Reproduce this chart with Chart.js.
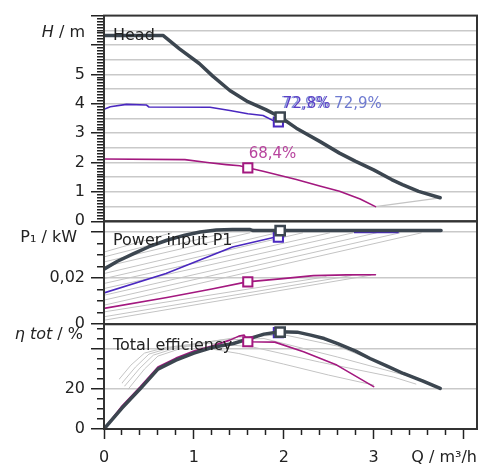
<!DOCTYPE html>
<html><head><meta charset="utf-8">
<script src="https://cdn.jsdelivr.net/npm/chart.js@4/dist/chart.umd.min.js"></script>
<style>html,body{margin:0;padding:0;background:#fff;}canvas{display:block;}</style>
</head><body>
<canvas id="c" width="482" height="468"></canvas>
<script>
// ---------- Head H / m ----------
const headQ = [0, 0.66, 0.84, 1.06, 1.21, 1.4, 1.6, 1.8, 1.96, 2.14, 2.4, 2.62, 2.8, 3.0, 3.2, 3.32, 3.5, 3.74];
const headH = [6.32, 6.32, 5.87, 5.37, 4.94, 4.45, 4.07, 3.8, 3.55, 3.17, 2.72, 2.32, 2.04, 1.75, 1.42, 1.25, 1.02, 0.8];
const blueHQ = [0, 0.07, 0.25, 0.47, 0.5, 1.18, 1.4, 1.6, 1.77, 1.9, 1.94];
const blueH  = [3.81, 3.9, 3.98, 3.96, 3.89, 3.88, 3.77, 3.66, 3.6, 3.4, 3.38];
const magHQ = [0, 0.9, 1.15, 1.36, 1.51, 1.6, 1.77, 2.14, 2.4, 2.62, 2.85, 3.02];
const magH  = [2.12, 2.1, 2.0, 1.93, 1.89, 1.82, 1.7, 1.42, 1.2, 1.02, 0.76, 0.5];
const minHQ = [3.02, 3.74];
const minH  = [0.5, 0.8];

// ---------- Power input P1 / kW ----------
const headPQ = [0, 0.15, 0.33, 0.5, 0.7, 0.9, 1.07, 1.25, 1.43, 1.62, 1.66, 3.75];
const headP  = [0.0238, 0.0272, 0.0305, 0.0335, 0.0363, 0.0385, 0.0399, 0.0407, 0.041, 0.041, 0.0405, 0.0405];
const bluePQ = [0, 0.69, 1.06, 1.43, 1.91, 2.0];
const blueP  = [0.0135, 0.0219, 0.0276, 0.0334, 0.0377, 0.0378];
const blueTopQ = [2.79, 3.27];
const blueTopP = [0.0397, 0.0397];
const magPQ = [0, 0.7, 1.2, 1.59, 1.96, 2.33, 2.7, 3.02];
const magP  = [0.0068, 0.0115, 0.0152, 0.0183, 0.0196, 0.021, 0.0213, 0.0214];
const fanStartP = [0.0312, 0.0291, 0.0269, 0.0248, 0.0219, 0.0197, 0.0176, 0.0154, 0.0125, 0.0104, 0.0082, 0.0053, 0.0032, 0.0017];
const fanEndQ   = [0.75, 1.05, 1.35, 1.62, 1.92, 2.21, 2.51, 2.77, 3.03, 3.29, 3.53, 2.47, 2.75, 2.97];
const fanEndP   = [0.0395, 0.0395, 0.0395, 0.0395, 0.0395, 0.0395, 0.0395, 0.0395, 0.0395, 0.0395, 0.0395, 0.0205, 0.021, 0.0212];

// ---------- Total efficiency / % ----------
const headEQ = [0, 0.2, 0.4, 0.6, 0.8, 1.0, 1.2, 1.44, 1.6, 1.78, 1.96, 2.15, 2.3, 2.45, 2.6, 2.8, 2.96, 3.15, 3.33, 3.55, 3.74];
const headE  = [0, 10.5, 20, 30, 34.5, 38, 40.8, 42.8, 45, 47.5, 48.7, 48.5, 47, 45.3, 42.8, 39, 35.3, 31.5, 27.8, 24, 20.3];
const blueEQ = [0, 0.2, 0.4, 0.6, 0.8, 1.0, 1.2, 1.44, 1.6, 1.78, 1.94];
const blueE  = [0, 10.8, 20.3, 30.3, 34.8, 38.3, 41, 43, 45.2, 47.6, 48.5];
const magEQ = [0, 0.2, 0.4, 0.6, 0.8, 1.0, 1.2, 1.4, 1.5, 1.56, 1.6, 1.9, 2.22, 2.59, 3.0];
const magE  = [0, 11.5, 21, 31, 35.5, 39, 41.5, 44.5, 46.5, 47, 43.7, 43.5, 38.7, 32, 21.2];
const effG1Q = [0.17, 0.3, 0.45, 0.7, 1.0, 1.5, 2.0, 2.5, 3.0];
const effG1  = [25, 32, 38, 41, 41.5, 37.8, 32.5, 27, 22];
const effG2Q = [0.2, 0.35, 0.5, 0.8, 1.2, 1.66, 2.4, 3.22, 3.47];
const effG2  = [23, 31, 37.5, 41.5, 43, 41, 33.5, 26, 22.5];
const effG3Q = [0.23, 0.4, 0.55, 0.9, 1.3, 1.78, 2.6, 3.55];
const effG3  = [21.5, 30.5, 37, 42, 44.5, 45.3, 36, 24.5];
const effG4Q = [0.27, 0.45, 0.6, 1.0, 1.5, 2.0, 2.6, 3.65];
const effG4  = [20, 30, 36.5, 42.5, 46, 47.2, 41.5, 22.5];

// ---------- operating points: head, blue, magenta ----------
const opQ = [1.96, 1.94, 1.6];
const opH = [3.55, 3.38, 1.82];
const opP = [0.0405, 0.0376, 0.0183];
const opE = [48.5, 48.3, 43.7];

// ---------- texts ----------
const xTickLabels = ['0', '1', '2', '3'];
const curveNames = [
  {text: 'Head', axis: 'yH', q: 0.1, v: 6.32},
  {text: 'Power input P1', axis: 'yP', q: 0.1, v: 0.0359},
  {text: 'Total efficiency', axis: 'yE', q: 0.1, v: 41.5}
];
const pctLabels = [
  {text: '72,9%', axis: 'yH', q: 1.97, v: 3.98, color: '#7c8ad6'},
  {text: '72,8%', axis: 'yH', q: 1.99, v: 3.98, color: '#5a3ec6'},
  {text: '72,9%', axis: 'yH', q: 2.56, v: 3.98, color: '#6e7ad0'},
  {text: '68,4%', axis: 'yH', q: 1.61, v: 2.28, color: '#b8449e'}
];

const HEAD = '#3c4650', BLUE = '#4a28c0', MAG = '#a3187f', GRAY = '#c4c4c4', GRID = '#c9c9c9', INK = '#222';
const FONT = '"DejaVu Sans", sans-serif';

function pts(xs, ys) { return xs.map((x, i) => ({x: x, y: ys[i]})); }
function line(data, axis, color, width, order) {
  return {data: data, yAxisID: axis, borderColor: color, borderWidth: width, pointRadius: 0,
    fill: false, tension: 0, order: order, borderJoinStyle: 'round', borderCapStyle: 'round'};
}
function marker(x, y, axis, color, bw, order) {
  return {data: [{x: x, y: y}], yAxisID: axis, showLine: false, pointStyle: 'rect', pointRadius: 6.5,
    pointBackgroundColor: '#fff', pointBorderColor: color, pointBorderWidth: bw, order: order};
}
const near = (a, b) => Math.abs(a - b) < 1e-9;
const multOf = (v, s) => Math.abs(v / s - Math.round(v / s)) < 1e-6;

const datasets = [];
datasets.push(marker(opQ[0], opH[0], 'yH', HEAD, 2.5, 0));
datasets.push(marker(opQ[0], opP[0], 'yP', HEAD, 2.5, 0));
datasets.push(marker(opQ[0], opE[0], 'yE', HEAD, 2.5, 0));
datasets.push(marker(opQ[2], opH[2], 'yH', MAG, 2, 0.5));
datasets.push(marker(opQ[2], opP[2], 'yP', MAG, 2, 0.5));
datasets.push(marker(opQ[2], opE[2], 'yE', MAG, 2, 0.5));
datasets.push(marker(opQ[1], opH[1], 'yH', BLUE, 2, 1.5));
datasets.push(marker(opQ[1], opP[1], 'yP', BLUE, 2, 1.5));
datasets.push(marker(opQ[1], opE[1], 'yE', BLUE, 2, 1.5));
datasets.push(line(pts(headQ, headH), 'yH', HEAD, 3.5, 1));
datasets.push(line(pts(headPQ, headP), 'yP', HEAD, 3.5, 1));
datasets.push(line(pts(headEQ, headE), 'yE', HEAD, 3.5, 1));
datasets.push(line(pts(blueHQ, blueH), 'yH', BLUE, 1.6, 2));
datasets.push(line(pts(bluePQ, blueP), 'yP', BLUE, 1.6, 2));
datasets.push(line(pts(blueTopQ, blueTopP), 'yP', BLUE, 1.8, 2));
datasets.push(line(pts(blueEQ, blueE), 'yE', BLUE, 1.4, 2));
datasets.push(line(pts(magHQ, magH), 'yH', MAG, 1.6, 2.5));
datasets.push(line(pts(magPQ, magP), 'yP', MAG, 1.6, 2.5));
datasets.push(line(pts(magEQ, magE), 'yE', MAG, 1.6, 2.5));
datasets.push(line(pts(minHQ, minH), 'yH', GRAY, 1.2, 3));
fanStartP.forEach((p0, i) => datasets.push(line([{x: 0, y: p0}, {x: fanEndQ[i], y: fanEndP[i]}], 'yP', GRAY, 1, 3)));
datasets.push(line(pts(effG1Q, effG1), 'yE', GRAY, 1, 3));
datasets.push(line(pts(effG2Q, effG2), 'yE', GRAY, 1, 3));
datasets.push(line(pts(effG3Q, effG3), 'yE', GRAY, 1, 3));
datasets.push(line(pts(effG4Q, effG4), 'yE', GRAY, 1, 3));

function yScale(cfg) {
  return {
    type: 'linear', position: 'left', stack: 'panels', stackWeight: cfg.sw, weight: cfg.w,
    min: 0, max: cfg.max,
    border: {display: true, color: INK, width: 2},
    grid: {
      color: c => (cfg.grid(c.tick.value) ? GRID : 'rgba(0,0,0,0)'),
      lineWidth: 1.5, tickLength: 13, tickColor: INK, tickWidth: 1.5,
      tickBorderDash: c => (cfg.major(c.tick.value) ? [] : [0, 6, 7, 100])
    },
    ticks: {stepSize: cfg.step, autoSkip: false, includeBounds: false, padding: 6, color: INK,
      font: {family: FONT, size: 16}, callback: cfg.label},
    afterFit: s => { s.width = 104; }
  };
}

function drawParts(ctx, parts, xRight, y) {
  let total = 0;
  parts.forEach(p => { ctx.font = (p.i ? 'italic ' : '') + '16px ' + FONT; p.w = ctx.measureText(p.t).width; total += p.w; });
  let x = xRight - total;
  parts.forEach(p => { ctx.font = (p.i ? 'italic ' : '') + '16px ' + FONT; ctx.fillText(p.t, x, y); x += p.w; });
}

const textPlugin = {
  id: 'pumpText',
  afterDatasetsDraw(chart) {
    const ctx = chart.ctx, a = chart.chartArea, sx = chart.scales.x;
    ctx.save();
    ctx.strokeStyle = '#333'; ctx.lineWidth = 2;
    ['yH', 'yP', 'yE'].forEach(id => {
      const s = chart.scales[id];
      ctx.strokeRect(a.left, s.top, a.right - a.left, s.bottom - s.top);
    });
    ctx.textBaseline = 'middle'; ctx.textAlign = 'left';
    ctx.fillStyle = INK;
    ctx.font = '16px ' + FONT;
    curveNames.forEach(t => ctx.fillText(t.text, sx.getPixelForValue(t.q), chart.scales[t.axis].getPixelForValue(t.v)));
    ctx.font = '15px ' + FONT;
    pctLabels.forEach(t => { ctx.fillStyle = t.color; ctx.fillText(t.text, sx.getPixelForValue(t.q), chart.scales[t.axis].getPixelForValue(t.v)); });
    ctx.fillStyle = INK;
    drawParts(ctx, [{t: 'H', i: true}, {t: ' / m'}], a.left - 19, chart.scales.yH.getPixelForValue(6.4));
    drawParts(ctx, [{t: 'P'}, {t: '\u2081'}, {t: ' / kW'}], a.left - 27, chart.scales.yP.getPixelForValue(0.0372));
    drawParts(ctx, [{t: '\u03b7 tot', i: true}, {t: ' / %'}], a.left - 21, chart.scales.yE.getPixelForValue(47));
    drawParts(ctx, [{t: 'Q'}, {t: ' / m\u00b3/h'}], a.right, sx.bottom - 10);
    ctx.restore();
  }
};

new Chart(document.getElementById('c'), {
  type: 'line',
  data: {datasets: datasets},
  plugins: [textPlugin],
  options: {
    responsive: false, animation: false, devicePixelRatio: 1,
    layout: {autoPadding: false, padding: {left: 0, top: 15, right: 5, bottom: 0}},
    plugins: {legend: {display: false}, tooltip: {enabled: false}},
    scales: {
      x: {
        type: 'linear', min: 0, max: 4.15,
        border: {display: true, color: INK, width: 2},
        grid: {drawOnChartArea: false, tickLength: 10, tickColor: INK, tickWidth: 1.5,
          tickBorderDash: c => (multOf(c.tick.value, 1) ? [] : [5, 100])},
        ticks: {stepSize: 0.2, autoSkip: false, includeBounds: false, maxRotation: 0, padding: 9, color: INK,
          font: {family: FONT, size: 16},
          callback: v => (multOf(v, 1) && Math.round(v) < xTickLabels.length ? xTickLabels[Math.round(v)] : '')},
        afterFit: s => { s.height = 39; s.paddingLeft = 0; s.paddingRight = 0; }
      },
      yE: yScale({sw: 105, w: 1, max: 52.5, step: 5,
        grid: v => near(v, 20) || near(v, 40), major: v => multOf(v, 20),
        label: v => (near(v, 0) ? '0' : near(v, 20) ? '20' : '')}),
      yP: yScale({sw: 103, w: 2, max: 0.0445, step: 0.005,
        grid: v => near(v, 0.02) || near(v, 0.04), major: v => multOf(v, 0.02),
        label: v => (near(v, 0) ? '0' : near(v, 0.02) ? '0,02' : '')}),
      yH: yScale({sw: 206, w: 3, max: 7, step: 0.1,
        grid: v => multOf(v, 0.5) && v > 0.01 && v < 6.99, major: v => multOf(v, 1),
        label: v => (multOf(v, 1) && v < 5.5 ? String(Math.round(v)) : '')})
    }
  }
});
</script>
</body></html>
